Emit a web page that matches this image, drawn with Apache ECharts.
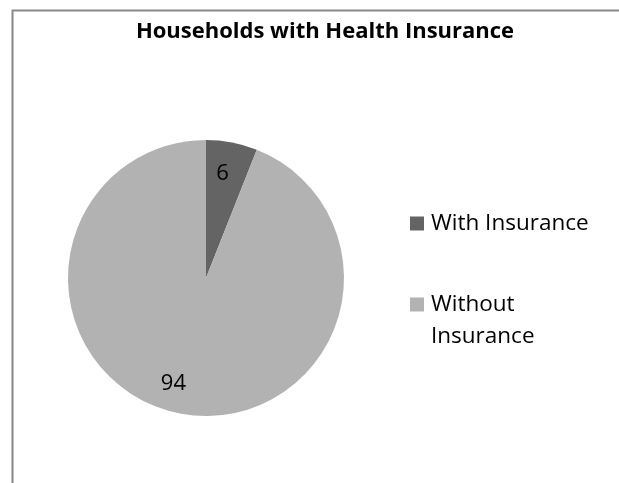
<!DOCTYPE html>
<html>
<head>
<meta charset="UTF-8">
<title>Households with Health Insurance</title>
<script src="https://cdn.jsdelivr.net/npm/echarts@6/dist/echarts.min.js"></script>
<style>
  html, body { margin: 0; padding: 0; background: #fff; }
</style>
</head>
<body>
<div id="main" style="width: 619px;height:483px;"></div>
<script type="text/javascript">
var categories = ['With Insurance', 'Without Insurance'];
var values = [6, 94];
var colors = ['#646464', '#b2b2b2'];

var pieData = categories.map(function (name, i) {
    return { name: name, value: values[i], itemStyle: { color: colors[i] } };
});

// label nudges so numbers sit where the original has them
var labelOffsets = [[-4, 4], [-12, -2]];

var myChart = echarts.init(document.getElementById('main'));

var option = {
    backgroundColor: '#fff',
    animation: false,
    title: {
        text: 'Households with Health Insurance',
        left: 325,
        textAlign: 'center',
        top: 21,
        padding: 0,
        textStyle: {
            fontFamily: 'Open Sans',
            fontSize: 22,
            fontWeight: 'bold',
            color: '#000'
        }
    },
    legend: {
        orient: 'vertical',
        left: 410,
        top: 207,
        padding: 0,
        itemWidth: 14,
        itemHeight: 14,
        itemGap: 48,
        icon: 'rect',
        formatter: function (name) {
            // second line of the long name is drawn by the graphic below
            return name === 'Without Insurance' ? 'Without' : name;
        },
        textStyle: {
            fontFamily: 'Open Sans',
            fontSize: 22.5,
            lineHeight: 33,
            color: '#000',
            padding: [0, 0, 0, 2]
        },
        data: categories
    },
    graphic: [{
        type: 'polyline',
        shape: { points: [[12.5, 483], [12.5, 10.5], [619, 10.5]] },
        style: { stroke: '#888', lineWidth: 2, fill: null },
        silent: true
    }, {
        type: 'text',
        left: 431,
        top: 337 - 16.5,
        silent: true,
        style: {
            text: 'Insurance',
            font: '22.5px "Open Sans"',
            lineHeight: 33,
            fill: '#000'
        }
    }],
    series: [
        {
            name: 'pie',
            type: 'pie',
            center: [206, 278],
            radius: [0, 138],
            startAngle: 90,
            clockwise: true,
            label: { show: false },
            labelLine: { show: false },
            silent: true,
            data: pieData
        },
        {
            name: 'labels',
            type: 'pie',
            center: [206, 278],
            radius: [76, 138],
            startAngle: 90,
            clockwise: true,
            silent: true,
            itemStyle: { color: 'rgba(0,0,0,0)' },
            label: {
                show: true,
                position: 'inside',
                formatter: '{c}',
                fontFamily: 'Open Sans',
                fontSize: 22,
                color: '#000'
            },
            labelLine: { show: false },
            legendHoverLink: false,
            data: values.map(function (v, i) {
                return { name: categories[i] + ' ', value: v, label: { offset: labelOffsets[i] } };
            })
        }
    ]
};

myChart.setOption(option);
</script>
</body>
</html>
